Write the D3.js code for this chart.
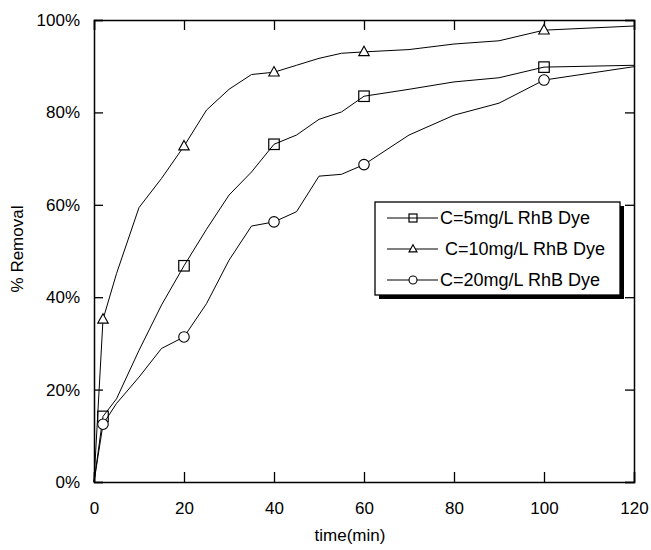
<!DOCTYPE html>
<html>
<head>
<meta charset="utf-8">
<script src="https://cdn.jsdelivr.net/npm/d3@7"></script>
<style>
  body { margin: 0; background: #fff; }
  svg text { font-family: "Liberation Sans", Arial, Helvetica, sans-serif; fill: #000; }
</style>
</head>
<body>
<div id="chart"></div>
<script>
// sampling times (min)
const times = [0, 2, 5, 10, 15, 20, 25, 30, 35, 40, 45, 50, 55, 60, 70, 80, 90, 100, 120];
// % removal
const removal5 = [0, 14.2, 18.0, 28.5, 38.3, 46.8, 54.7, 62.1, 67.1, 73.1, 75.1, 78.5, 80.1, 83.5, 85.0, 86.6, 87.5, 89.8, 90.2];
const removal10 = [0, 35.2, 45.1, 59.4, 65.7, 72.7, 80.5, 85.0, 88.2, 88.7, 90.2, 91.7, 92.8, 93.1, 93.6, 94.8, 95.5, 97.8, 98.7];
const removal20 = [0, 12.5, 17.0, 22.7, 28.9, 31.4, 38.6, 48.0, 55.4, 56.3, 58.5, 66.2, 66.6, 68.7, 75.1, 79.4, 82.0, 87.0, 89.9];
// times that carry a marker
const markerTimes = [2, 20, 40, 60, 100];
const xTicks = [0, 20, 40, 60, 80, 100, 120];
const yTicks = [0, 0.2, 0.4, 0.6, 0.8, 1.0];
const seriesNames = ['C=5mg/L RhB Dye', ' C=10mg/L RhB Dye', 'C=20mg/L RhB Dye'];

const W = 651, H = 550;
const margin = { top: 20, right: 17, bottom: 68, left: 94 };
const width = W - margin.left - margin.right,
      height = H - margin.top - margin.bottom;

const svg = d3.select('#chart').append('svg')
    .attr('width', W)
    .attr('height', H);

const g = svg.append('g')
    .attr('transform', `translate(${margin.left},${margin.top})`);

const x = d3.scaleLinear().domain([0, 120]).range([0, width]);
const y = d3.scaleLinear().domain([0, 1]).range([height, 0]);

// axes: ticks point inward on all four sides
const fontSize = 17;
g.append('g')
    .attr('transform', `translate(0,${height})`)
    .call(d3.axisBottom(x).tickValues(xTicks).tickSize(-10).tickPadding(20))
    .call(a => a.selectAll('text').style('font-size', fontSize + 'px'));
g.append('g')
    .call(d3.axisTop(x).tickValues(xTicks).tickSize(-10).tickFormat(''));
g.append('g')
    .call(d3.axisLeft(y).tickValues(yTicks).tickSize(-9).tickPadding(14).tickFormat(d3.format('.0%')))
    .call(a => a.selectAll('text').style('font-size', fontSize + 'px'));
g.append('g')
    .attr('transform', `translate(${width},0)`)
    .call(d3.axisRight(y).tickValues(yTicks).tickSize(-9).tickFormat(''));
g.selectAll('.domain').attr('stroke', '#000').attr('stroke-width', 1.5);
g.selectAll('.tick line').attr('stroke', '#000').attr('stroke-width', 1.3);

// axis titles
g.append('text')
    .attr('x', width / 2 - 14)
    .attr('y', height + 59)
    .attr('text-anchor', 'middle')
    .style('font-size', fontSize + 'px')
    .text('time(min)');
g.append('text')
    .attr('transform', `translate(${-71},${height / 2 - 2}) rotate(-90)`)
    .attr('text-anchor', 'middle')
    .style('font-size', fontSize + 'px')
    .text('% Removal');

// markers
function drawMarker(sel, type, cx, cy, s) {
    if (type === 'square') {
        sel.append('rect')
            .attr('x', cx - s / 2).attr('y', cy - s / 2)
            .attr('width', s).attr('height', s)
            .attr('fill', 'none').attr('stroke', '#000').attr('stroke-width', 1.2);
    } else if (type === 'triangle') {
        const h = s * 0.9;
        sel.append('path')
            .attr('d', `M${cx},${cy - h * 0.6}L${cx + s / 2},${cy + h * 0.4}L${cx - s / 2},${cy + h * 0.4}Z`)
            .attr('fill', '#fff').attr('stroke', '#000').attr('stroke-width', 1.1);
    } else {
        sel.append('circle')
            .attr('cx', cx).attr('cy', cy).attr('r', s / 2)
            .attr('fill', '#fff').attr('stroke', '#000').attr('stroke-width', 1.1);
    }
}

const series = [
    { values: removal5, marker: 'square' },
    { values: removal10, marker: 'triangle' },
    { values: removal20, marker: 'circle' }
];

const line = d3.line()
    .x(d => x(d.t))
    .y(d => y(d.v / 100));

series.forEach(s => {
    const pts = times.map((t, i) => ({ t: t, v: s.values[i] }));
    g.append('path')
        .datum(pts)
        .attr('d', line)
        .attr('fill', 'none')
        .attr('stroke', '#000')
        .attr('stroke-width', 1);
    const mg = g.append('g');
    pts.filter(p => markerTimes.includes(p.t)).forEach(p => {
        drawMarker(mg, s.marker, x(p.t), y(p.v / 100), 10.5);
    });
});

// legend with drop shadow
const lg = svg.append('g').attr('transform', 'translate(375,202)');
const lw = 245, lh = 93;
lg.append('rect').attr('x', 4).attr('y', 4).attr('width', lw).attr('height', lh).attr('fill', '#000');
lg.append('rect').attr('x', 0).attr('y', 0).attr('width', lw).attr('height', lh)
    .attr('fill', '#fff').attr('stroke', '#000').attr('stroke-width', 1.3);
series.forEach((s, i) => {
    const cy = 16 + i * 31;
    lg.append('line').attr('x1', 12).attr('x2', 63).attr('y1', cy).attr('y2', cy)
        .attr('stroke', '#000').attr('stroke-width', 1);
    drawMarker(lg, s.marker, 38, cy, 8);
    lg.append('text')
        .attr('x', 65)
        .attr('y', cy + 6)
        .attr('xml:space', 'preserve')
        .style('white-space', 'pre')
        .style('font-size', '18px')
        .text(seriesNames[i]);
});
</script>
</body>
</html>
